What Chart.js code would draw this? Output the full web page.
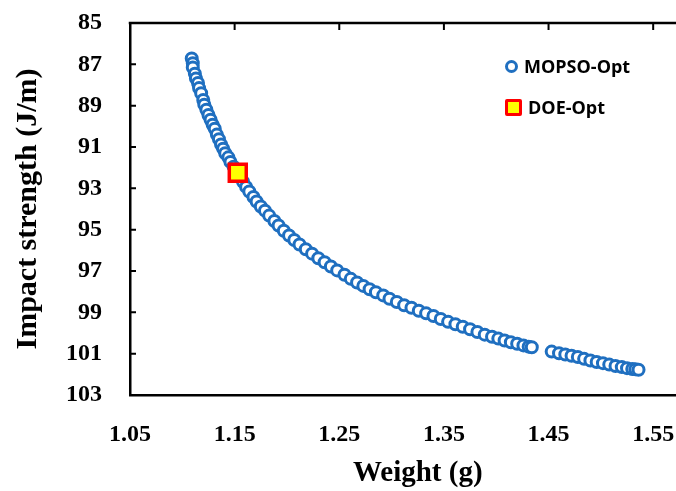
<!DOCTYPE html>
<html>
<head>
<meta charset="utf-8">
<script src="https://cdn.jsdelivr.net/npm/chart.js@4.4.1/dist/chart.umd.min.js"></script>
<style>
  html, body { margin: 0; padding: 0; background: #fff; overflow: hidden; }
  #wrap { position: relative; width: 676px; height: 491px; overflow: hidden; }
  #box { position: absolute; left: 0; top: 0; width: 721px; height: 491px; }
  .leg { position: absolute; left: 505px; height: 24px; display: flex; align-items: center;
         font: 700 18px "Open Sans", sans-serif; color: #000; }
  .leg i { display: inline-block; box-sizing: border-box; margin-right: 6px; }
  .circ { width: 13px; height: 13px; border: 3px solid #1f6fc0; border-radius: 50%; background: #fff; }
  .sq { width: 17px; height: 17px; border: 3px solid #ff0000; background: #ffff00; border-radius: 2px; }
</style>
</head>
<body>
<div id="wrap">
  <div id="box"><canvas id="c"></canvas></div>
  <div class="leg" style="top:54px"><i class="circ"></i>MOPSO-Opt</div>
  <div class="leg" style="top:95px"><i class="sq"></i>DOE-Opt</div>
</div>
<script>
// Pareto front from MOPSO (weight in g, impact strength in J/m)
const weight = [
  1.109, 1.110, 1.110, 1.112, 1.113, 1.115, 1.116, 1.118, 1.120, 1.121,
  1.123, 1.125, 1.127, 1.129, 1.131, 1.133, 1.135, 1.137, 1.139, 1.141,
  1.144, 1.146, 1.149, 1.152, 1.155, 1.158, 1.161, 1.164, 1.168, 1.171,
  1.175, 1.179, 1.183, 1.188, 1.192, 1.197, 1.202, 1.207, 1.212, 1.218,
  1.224, 1.230, 1.236, 1.242, 1.248, 1.255, 1.261, 1.267, 1.273, 1.279,
  1.285, 1.292, 1.298, 1.305, 1.312, 1.319, 1.326, 1.333, 1.340, 1.347,
  1.354, 1.361, 1.368, 1.375, 1.382, 1.389, 1.396, 1.402, 1.408, 1.414,
  1.420, 1.426, 1.431, 1.434,
  1.453, 1.460, 1.466, 1.472, 1.478, 1.484, 1.490, 1.496, 1.502, 1.508,
  1.514, 1.520, 1.525, 1.530, 1.533, 1.536
];
const impact = [
  86.72, 86.95, 87.15, 87.45, 87.68, 87.90, 88.15, 88.40, 88.72, 88.95,
  89.20, 89.45, 89.68, 89.92, 90.12, 90.40, 90.62, 90.88, 91.08, 91.30,
  91.50, 91.72, 91.95, 92.20, 92.42, 92.68, 92.93, 93.15, 93.42, 93.64,
  93.88, 94.08, 94.32, 94.58, 94.80, 95.05, 95.28, 95.50, 95.72, 95.95,
  96.16, 96.38, 96.58, 96.78, 96.97, 97.18, 97.38, 97.56, 97.72, 97.88,
  98.03, 98.18, 98.34, 98.50, 98.66, 98.78, 98.92, 99.05, 99.18, 99.32,
  99.46, 99.58, 99.70, 99.82, 99.95, 100.08, 100.18, 100.27, 100.36, 100.45,
  100.52, 100.60, 100.66, 100.69,
  100.90, 100.98, 101.04, 101.10, 101.16, 101.25, 101.33, 101.40, 101.46, 101.53,
  101.60, 101.65, 101.70, 101.74, 101.76, 101.78
];
// DOE optimum
const doeWeight = [1.153];
const doeImpact = [92.25];

const xTicks = [1.05, 1.15, 1.25, 1.35, 1.45, 1.55];
const yTicks = [85, 87, 89, 91, 93, 95, 97, 99, 101, 103];

const serif = 'Liberation Serif, "Times New Roman", serif';

/** top axis line plus the inward tick marks */
const frame = {
  id: 'frame',
  afterDraw(chart) {
    const { ctx, chartArea: a, scales: { x, y } } = chart;
    ctx.save();
    ctx.strokeStyle = '#000';
    ctx.lineWidth = 2.5;
    ctx.beginPath();
    ctx.moveTo(a.left - 1.25, a.top);
    ctx.lineTo(a.right, a.top);
    ctx.stroke();
    ctx.lineWidth = 2;
    ctx.beginPath();
    xTicks.forEach(v => {
      const px = x.getPixelForValue(v);
      ctx.moveTo(px, a.top);
      ctx.lineTo(px, a.top + 7);
    });
    yTicks.forEach(v => {
      const py = y.getPixelForValue(v);
      ctx.moveTo(a.left, py);
      ctx.lineTo(a.left + 6, py);
    });
    ctx.stroke();
    ctx.restore();
  },
};

new Chart(document.getElementById('c'), {
  type: 'scatter',
  data: {
    datasets: [
      {
        label: 'DOE-Opt',
        data: doeWeight.map((w, i) => ({ x: w, y: doeImpact[i] })),
        pointStyle: 'rect',
        radius: 12,
        borderWidth: 3.5,
        borderColor: '#ff0000',
        backgroundColor: '#ffff00',
        order: 0,
      },
      {
        label: 'MOPSO-Opt',
        data: weight.map((w, i) => ({ x: w, y: impact[i] })),
        pointStyle: 'circle',
        radius: 5.5,
        borderWidth: 3,
        borderColor: '#1f6fc0',
        backgroundColor: '#ffffff',
        order: 1,
      },
    ],
  },
  options: {
    responsive: true,
    maintainAspectRatio: false,
    animation: false,
    layout: { padding: { top: 23, right: 7, left: 0, bottom: 0 } },
    plugins: { legend: { display: false }, tooltip: { enabled: false } },
    scales: {
      x: {
        type: 'linear',
        min: 1.05,
        max: 1.6,
        afterBuildTicks: s => { s.ticks = xTicks.map(v => ({ value: v })); },
        afterFit: s => { s.height = 96; s.paddingLeft = 0; s.paddingRight = 0; },
        grid: { display: false },
        border: { display: true, color: '#000', width: 2.5 },
        ticks: {
          color: '#000',
          padding: 17,
          font: { family: serif, size: 24, weight: 'bold' },
          callback: v => v.toFixed(2),
        },
        title: {
          display: true,
          text: 'Weight (g)',
          color: '#000',
          font: { family: serif, size: 29, weight: 'bold' },
          padding: { top: 0, bottom: 0 },
        },
      },
      y: {
        min: 85,
        max: 103,
        reverse: true,
        afterBuildTicks: s => { s.ticks = yTicks.map(v => ({ value: v })); },
        afterFit: s => { s.width = 130; s.paddingTop = 0; s.paddingBottom = 0; },
        grid: { display: false },
        border: { display: true, color: '#000', width: 2.5 },
        ticks: {
          color: '#000',
          padding: 20,
          font: { family: serif, size: 24, weight: 'bold' },
        },
        title: {
          display: true,
          text: 'Impact strength (J/m)',
          color: '#000',
          font: { family: serif, size: 30, weight: 'bold' },
          padding: { top: 10, bottom: 0 },
        },
      },
    },
  },
  plugins: [frame],
});
</script>
</body>
</html>
